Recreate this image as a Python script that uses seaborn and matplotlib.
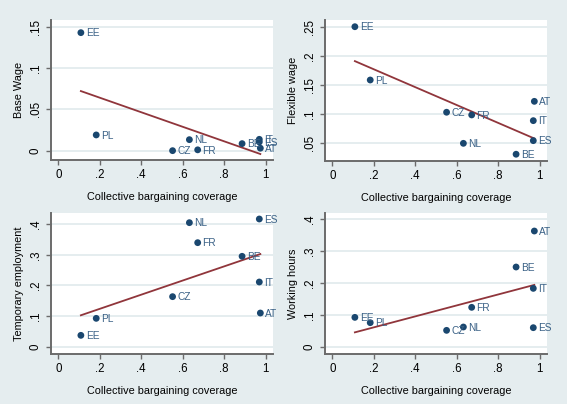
# Collective bargaining coverage vs. flexibility outcomes (2x2 Stata-style panels)

import pandas as pd
import seaborn as sns
import matplotlib.pyplot as plt

countries = ["EE", "PL", "CZ", "NL", "FR", "BE", "IT", "ES", "AT"]
coverage = [0.109, 0.183, 0.551, 0.632, 0.672, 0.886, 0.969, 0.969, 0.974]

base_wage = [0.1427, 0.019, 0.0, 0.0133, 0.001, 0.0085, 0.0137, 0.0105, 0.003]
flexible_wage = [0.25, 0.1586, 0.1033, 0.05, 0.0987, 0.0313, 0.0889, 0.0546, 0.122]
temp_employment = [0.037, 0.0926, 0.1635, 0.4054, 0.340, 0.2954, 0.2114, 0.4174, 0.110]
working_hours = [0.0921, 0.0754, 0.0513, 0.0618, 0.1236, 0.2503, 0.1832, 0.0597, 0.3634]

x_ticks = [0, 0.2, 0.4, 0.6, 0.8, 1.0]
x_ticklabels = ["0", ".2", ".4", ".6", ".8", "1"]

panels = [
    ("Base Wage", base_wage, [0, 0.05, 0.1, 0.15], ["0", ".05", ".1", ".15"], (-0.0113, 0.158)),
    ("Flexible wage", flexible_wage, [0.05, 0.1, 0.15, 0.2, 0.25], [".05", ".1", ".15", ".2", ".25"], (0.0197, 0.2615)),
    ("Temporary employment", temp_employment, [0, 0.1, 0.2, 0.3, 0.4], ["0", ".1", ".2", ".3", ".4"], (-0.024, 0.437)),
    ("Working hours", working_hours, [0, 0.1, 0.2, 0.3, 0.4], ["0", ".1", ".2", ".3", ".4"], (-0.023, 0.42)),
]

# axes boxes in pixels: left, top, right, bottom
boxes = [(51, 20, 273, 160), (325, 20, 547, 161), (51, 213, 273, 354), (325, 213, 547, 354)]

W, H = 567, 404
bg = "#E5EDEF"
navy = "#1a476f"
maroon = "#90353b"
label_col = "#3a6186"
axis_col = "#6b6b6b"

plt.rcParams['font.family'] = ['Liberation Sans', 'DejaVu Sans']
fig = plt.figure(figsize=(W / 100, H / 100), dpi=100, facecolor=bg)

for (ylabel, yvals, yticks, yticklabels, ylim), (l, t, r, b) in zip(panels, boxes):
    ax = fig.add_axes([l / W, 1 - b / H, (r - l) / W, (b - t) / H])
    ax.set_facecolor("white")
    df = pd.DataFrame({"country": countries, "coverage": coverage, "y": yvals})

    for yt in yticks:
        ax.axhline(yt, color="#E3ECEE", lw=1.3, zorder=0)

    sns.regplot(data=df, x="coverage", y="y", ax=ax, scatter=False, ci=None,
                truncate=True, line_kws={"color": maroon, "lw": 1.3, "zorder": 2})
    sns.scatterplot(data=df, x="coverage", y="y", ax=ax, color=navy, s=24,
                    edgecolor="none", zorder=3)
    for _, row in df.iterrows():
        ax.annotate(row["country"], (row["coverage"], row["y"]), xytext=(3.5, -0.5),
                    textcoords="offset points", va="center", ha="left",
                    fontsize=7.3, color=label_col, zorder=4)

    ax.set_xlim(-0.035, 1.035)
    ax.set_ylim(*ylim)
    ax.set_xticks(x_ticks)
    ax.set_xticklabels(x_ticklabels)
    ax.set_yticks(yticks)
    ax.set_yticklabels(yticklabels, rotation=90, va="center")
    ax.tick_params(axis="both", direction="out", length=3.5, width=1, color=axis_col,
                   labelsize=8.3, labelcolor="black", pad=3)
    for side in ["top", "right"]:
        ax.spines[side].set_visible(False)
    for side in ["left", "bottom"]:
        ax.spines[side].set_color(axis_col)
        ax.spines[side].set_linewidth(1.4)
    ax.set_xlabel("Collective bargaining coverage", fontsize=7.8, labelpad=8)
    ax.set_ylabel(ylabel, fontsize=7.8, labelpad=4)

fig.savefig("out.png", dpi=100, facecolor=bg)
